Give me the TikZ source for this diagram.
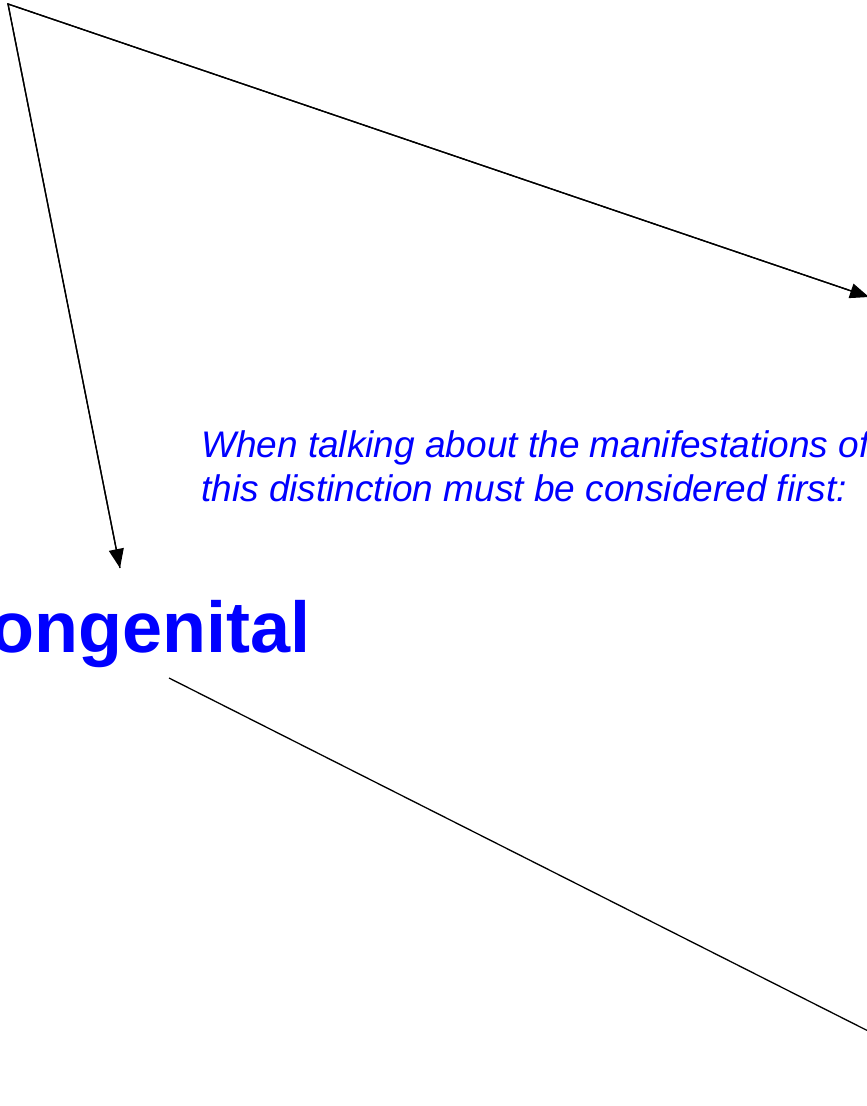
\documentclass[tikz,border=0pt]{standalone}
\usepackage{fontspec}
\setmainfont{Liberation Sans}
\usetikzlibrary{arrows.meta}
\definecolor{txtblue}{RGB}{0,0,255}
\tikzset{
  conn/.style={line width=1.3pt, black},
  arr/.style={conn, -{Triangle[length=19pt,width=15pt]}},
  bigtxt/.style={inner sep=0pt, text=txtblue, font=\fontsize{72}{86}\selectfont\bfseries},
  notetxt/.style={inner sep=0pt, text=txtblue, align=left, font=\fontsize{37}{44}\selectfont\itshape}
}
\begin{document}
\begin{tikzpicture}[x=1pt,y=-1pt]
\useasboundingbox (0,0) rectangle (867,1106);
\clip (0,0) rectangle (867,1106);
\fill[white] (0,0) rectangle (867,1106);
\coordinate (apex) at (8,4);
\coordinate (rtip) at (869,297);
\coordinate (dtip) at (120,568);
\coordinate (lstart) at (169,678);
\coordinate (lend) at (890,1042);
\node[bigtxt, anchor=base east] (cong) at (311,652) {Congenital};
\node[notetxt, anchor=base west] (note1) at (201,457) {When talking about the manifestations of};
\node[notetxt, anchor=base west] (note2) at (201,501) {this distinction must be considered first:};
\draw[conn] (rtip) -- (apex) -- (dtip);
\draw[arr] (apex) -- (rtip);
\draw[arr] (apex) -- (dtip);
\draw[conn] (lstart) -- (lend);
\end{tikzpicture}
\end{document}
